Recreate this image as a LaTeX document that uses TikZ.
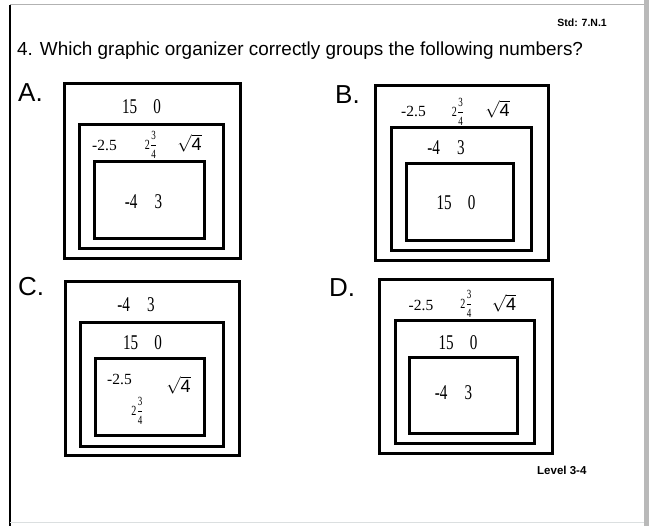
\documentclass[tikz,border=0pt]{standalone}
\usepackage{fontspec}
\usepackage{amsmath}
\setmainfont{Liberation Serif}
\setsansfont{Liberation Sans}
\newfontfamily\numfont[FakeStretch=0.72]{Liberation Serif}
\usepackage{tikz}
\usetikzlibrary{positioning}

\newcommand{\mixnum}{{\fontsize{14}{14}\numfont 2\kern0.2pt$\genfrac{}{}{0.4pt}{0}{\text{\fontsize{12.5}{12.5}\numfont 3}}{\text{\fontsize{12.5}{12.5}\numfont 4}}$}}
\newcommand{\rootfour}{{\fontsize{18}{18}\selectfont$\sqrt{\text{\sffamily 4}}$}}

\begin{document}
\begin{tikzpicture}[
  x=1pt,y=-1pt,
  box/.style={draw,line width=3pt,inner sep=0pt},
  big/.style={inner sep=0pt,font=\fontsize{21}{22}\numfont},
  small/.style={inner sep=0pt,font=\fontsize{15.5}{16}\selectfont},
  plain/.style={inner sep=0pt},
  letter/.style={inner sep=0pt,anchor=base west,font=\fontsize{26}{28}\sffamily}
]
\useasboundingbox (0,0) rectangle (649,526);
% page frame
\draw[gray!60,line width=1pt] (10,5) -- (644,5);
\draw[line width=1.5pt] (10,5) -- (10,526);
\fill[gray!55] (644,0) rectangle (649,526);
\draw[cyan!10!gray!30,line width=1pt] (10,523) -- (644,523);

\node[inner sep=0pt,anchor=base east,font=\fontsize{10.5}{12}\sffamily\bfseries] (std) at (607,27) {Std: 7.N.1};
\node[inner sep=0pt,anchor=base west,font=\fontsize{18.9}{20}\sffamily] (question) at (17,56) {4. Which graphic organizer correctly groups the following numbers?};

% A
\node[letter] (labA) at (18,102) {A.};
\node[box,minimum width=176pt,minimum height=175pt] (aOuter) at (152,171.5) {};
\node[box,minimum width=144pt,minimum height=124pt] (aMid) at (151,187) {};
\node[box,minimum width=110pt,minimum height=77pt] (aInner) at (149,200.5) {};
\node[big] (aWhole) at (141.5,107) {15\hspace{16pt}0};
\node[small] (aDec) at (104.5,145) {-2.5};
\node[plain] (aFrac) at (151,145) {\mixnum};
\node[plain] (aRoot) at (189.5,143) {\rootfour};
\node[big] (aInt) at (143.5,202) {-4\hspace{17pt}3};

% B
\node[letter] (labB) at (335,104) {B.};
\node[box,minimum width=173pt,minimum height=175pt] (bOuter) at (461.5,173.5) {};
\node[box,minimum width=140pt,minimum height=123pt] (bMid) at (461,189.5) {};
\node[box,minimum width=107pt,minimum height=77pt] (bInner) at (459.5,202.5) {};
\node[small] (bDec) at (413.5,111) {-2.5};
\node[plain] (bFrac) at (458,112) {\mixnum};
\node[plain] (bRoot) at (497.5,109) {\rootfour};
\node[big] (bInt) at (446,148) {-4\hspace{17pt}3};
\node[big] (bWhole) at (456,202.5) {15\hspace{16pt}0};

% C
\node[letter] (labC) at (18,296) {C.};
\node[box,minimum width=174pt,minimum height=174pt] (cOuter) at (152,369) {};
\node[box,minimum width=143pt,minimum height=124pt] (cMid) at (151.5,385) {};
\node[box,minimum width=109pt,minimum height=77pt] (cInner) at (149.5,397.5) {};
\node[big] (cInt) at (136,305) {-4\hspace{17pt}3};
\node[big] (cWhole) at (142.5,343) {15\hspace{16pt}0};
\node[small] (cDec) at (119.5,379) {-2.5};
\node[plain] (cRoot) at (178.5,385.5) {\rootfour};
\node[plain] (cFrac) at (137.5,411) {\mixnum};

% D
\node[letter] (labD) at (329,297) {D.};
\node[box,minimum width=173pt,minimum height=174pt] (dOuter) at (465.5,367) {};
\node[box,minimum width=139pt,minimum height=123pt] (dMid) at (464.5,382.5) {};
\node[box,minimum width=108pt,minimum height=76pt] (dInner) at (463,396) {};
\node[small] (dDec) at (421,305) {-2.5};
\node[plain] (dFrac) at (466.5,304) {\mixnum};
\node[plain] (dRoot) at (504,303) {\rootfour};
\node[big] (dWhole) at (458,342.5) {15\hspace{16pt}0};
\node[big] (dInt) at (453.5,393) {-4\hspace{17pt}3};

\node[inner sep=0pt,anchor=base west,font=\fontsize{11.5}{12}\sffamily\bfseries] (level) at (537,475) {Level 3-4};
\end{tikzpicture}
\end{document}
